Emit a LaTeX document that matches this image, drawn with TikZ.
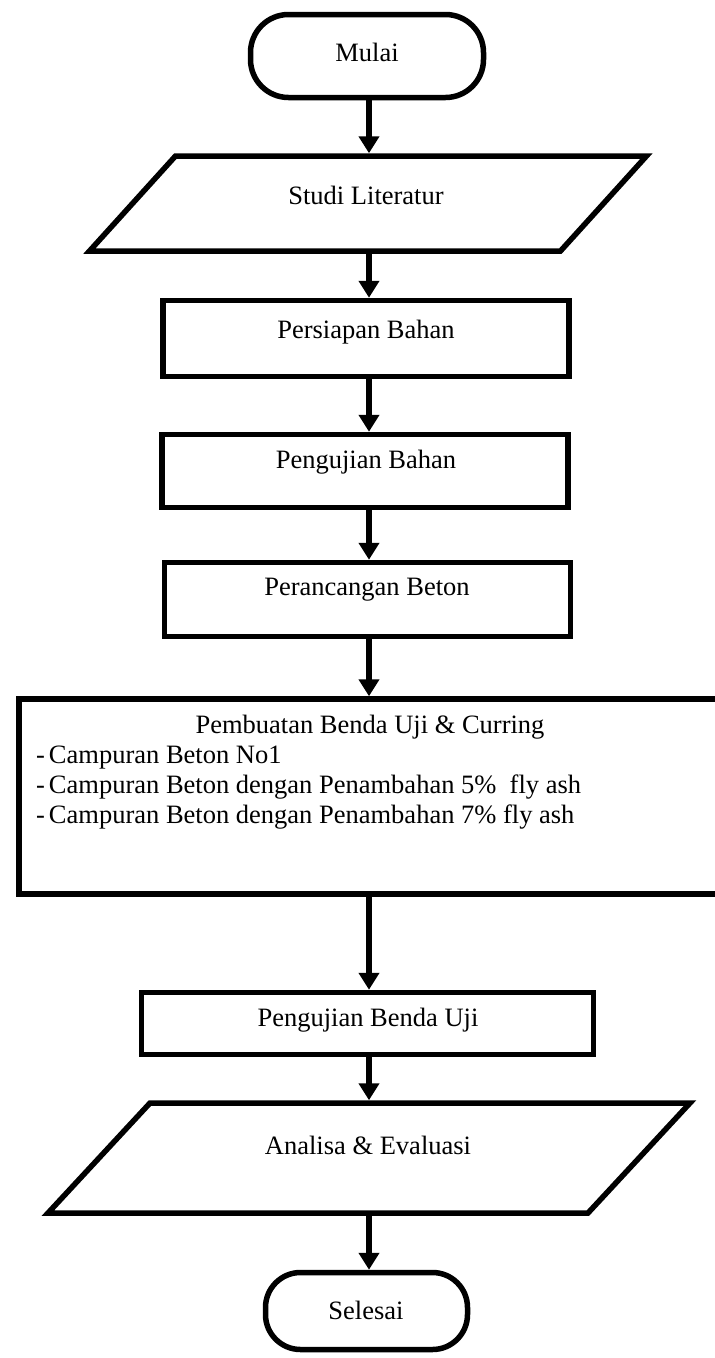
\documentclass[tikz,border=0pt]{standalone}
\usepackage{fontspec}
\setmainfont{Liberation Serif}
\usetikzlibrary{arrows.meta,calc}
\begin{document}
\begin{tikzpicture}[x=1pt,y=-1pt,
  every node/.style={font=\fontsize{26.5}{30}\selectfont},
  procbox/.style={draw, line width=5.5pt, rectangle, inner sep=0pt},
  termbox/.style={draw, line width=5.5pt, rectangle, rounded corners=38pt, inner sep=0pt},
  iobox/.style={draw=none, rectangle, inner sep=0pt, outer sep=2.75pt},
  iopath/.style={line width=5.5pt, line join=miter},
  txt/.style={inner sep=0pt},
  arr/.style={line width=5.5pt, -{Triangle[length=17pt,width=20pt]}}]
\useasboundingbox (0,0) rectangle (715,1358);
\clip (0,0) rectangle (715,1358);

% Mulai
\node[termbox, minimum width=233pt, minimum height=83pt] (start) at (367,56) {};
\node[txt] (tstart) at (367,52) {Mulai};

% Studi Literatur
\node[iobox, minimum width=471pt, minimum height=95pt] (lit) at (368,203.5) {};
\draw[iopath] ($(lit.center)+(-192.5,-47.5)$) -- ($(lit.center)+(278.5,-47.5)$)
  -- ($(lit.center)+(192.5,47.5)$) -- ($(lit.center)+(-278.5,47.5)$) -- cycle;
\node[txt] (tlit) at (366,195) {Studi Literatur};

% Persiapan Bahan
\node[procbox, minimum width=406pt, minimum height=76pt] (prep) at (366,338.5) {};
\node[txt] (tprep) at (366,332) {Persiapan Bahan};

% Pengujian Bahan
\node[procbox, minimum width=406pt, minimum height=73pt] (test) at (365,471) {};
\node[txt] (ttest) at (366,462) {Pengujian Bahan};

% Perancangan Beton
\node[procbox, minimum width=406pt, minimum height=74pt] (design) at (367.5,599.5) {};
\node[txt] (tdesign) at (367,590) {Perancangan Beton};

% Pembuatan Benda Uji
\node[procbox, minimum width=706pt, minimum height=195pt] (make) at (372,796.5) {};
\node[txt] (tmake) at (370,727) {Pembuatan Benda Uji \& Curring};
\node[txt, anchor=base west] (l1) at (36,763) {-\hspace{4pt}Campuran Beton No1};
\node[txt, anchor=base west] (l2) at (36,793) {-\hspace{4pt}Campuran Beton dengan Penambahan 5\%\ \ fly ash};
\node[txt, anchor=base west] (l3) at (36,823) {-\hspace{4pt}Campuran Beton dengan Penambahan 7\% fly ash};

% Pengujian Benda Uji
\node[procbox, minimum width=452pt, minimum height=62pt] (spec) at (367.5,1023.5) {};
\node[txt] (tspec) at (368,1020) {Pengujian Benda Uji};

% Analisa & Evaluasi
\node[iobox, minimum width=540pt, minimum height=110pt] (eval) at (369,1158) {};
\draw[iopath] ($(eval.center)+(-219,-55)$) -- ($(eval.center)+(321,-55)$)
  -- ($(eval.center)+(219,55)$) -- ($(eval.center)+(-321,55)$) -- cycle;
\node[txt] (teval) at (368,1145) {Analisa \& Evaluasi};

% Selesai
\node[termbox, rounded corners=35pt, minimum width=202pt, minimum height=77pt] (stop) at (366.5,1311) {};
\node[txt] (tstop) at (366,1310) {Selesai};

% connectors
\coordinate (ax) at (369,0);
\draw[arr] (start.south -| ax) -- (ax |- lit.north);
\draw[arr] (lit.south -| ax) -- (ax |- prep.north);
\draw[arr] (prep.south -| ax) -- (ax |- test.north);
\draw[arr] (test.south -| ax) -- (ax |- design.north);
\draw[arr] (design.south -| ax) -- (ax |- make.north);
\draw[arr] (make.south -| ax) -- (ax |- spec.north);
\draw[arr] (spec.south -| ax) -- (ax |- eval.north);
\draw[arr] (eval.south -| ax) -- (ax |- stop.north);
\end{tikzpicture}
\end{document}
